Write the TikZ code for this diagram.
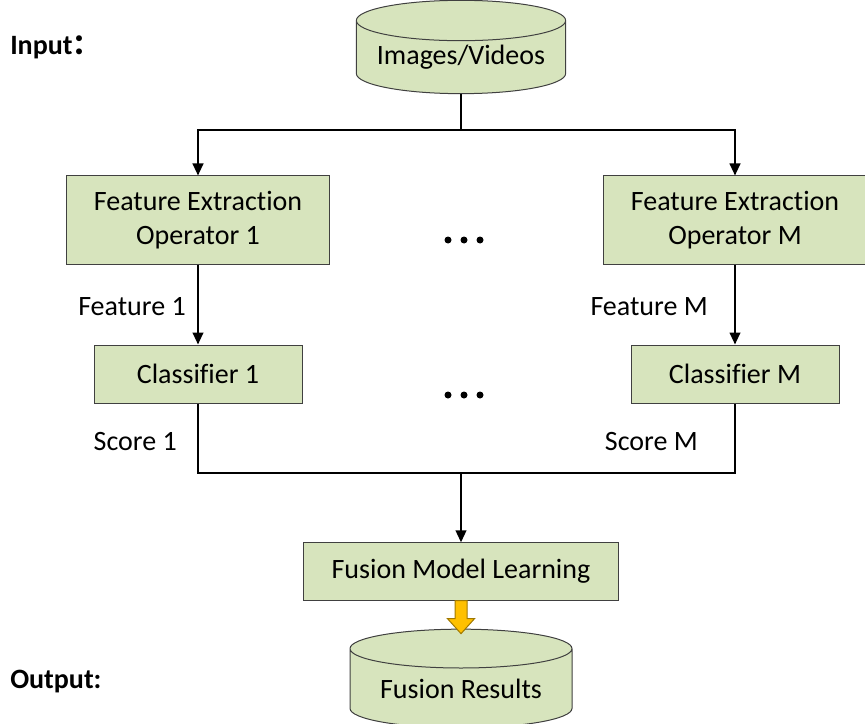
\documentclass[tikz,border=0pt]{standalone}
\usepackage{fontspec}
\setmainfont{Carlito}[Ligatures=NoCommon]
\newfontfamily\cjk{Noto Sans CJK SC}
\usetikzlibrary{positioning, arrows.meta, calc, shapes.geometric}
\definecolor{boxgreen}{HTML}{D7E4BD}
\definecolor{boxline}{HTML}{404040}
\definecolor{fuseyellow}{HTML}{FFC000}
\definecolor{fuseedge}{HTML}{A07800}
\tikzset{
  block/.style={draw=boxline, fill=boxgreen, line width=0.75pt, align=center, inner sep=0pt, font=\fontsize{21}{26}\selectfont},
  store/.style={block, shape=cylinder, shape border rotate=90, aspect=0.24, anchor=shape center},
  wire/.style={line width=1.5pt},
  flow/.style={wire, -{Triangle[length=9pt,width=8pt]}},
  tag/.style={anchor=east, inner sep=0pt, font=\fontsize{21}{26}\selectfont},
  io/.style={anchor=west, inner sep=0pt, font=\fontsize{21}{26}\selectfont\bfseries},
}

\begin{document}
\begin{tikzpicture}[x=0.75pt, y=-0.75pt]
    \useasboundingbox (0,0) rectangle (865,724);
    % inputs and outputs
    \node[io] (inlbl) at (10,47) {Input{\cjk ：}};
    \node[io] (outlbl) at (10,682) {Output:};
    \node[store, minimum width=157pt, minimum height=70pt] (img) at (461,47) {Images/Videos};
    \node[store, minimum width=166.5pt, minimum height=74pt] (res) at (461,678.5) {Fusion Results};
    % operators and classifiers
    \node[block, minimum width=197pt, minimum height=66pt] (feat1) at (198,220) {Feature Extraction\\Operator 1};
    \node[block, minimum width=197pt, minimum height=66pt] (featM) at (735,220) {Feature Extraction\\Operator M};
    \node[block, minimum width=156pt, minimum height=43.5pt] (cls1) at (198,374) {Classifier 1};
    \node[block, minimum width=156pt, minimum height=43.5pt] (clsM) at (735,374) {Classifier M};
    \node[block, minimum width=236pt, minimum height=43pt] (fusion) at (461,571.5) {Fusion Model Learning};
    \foreach \x in {448,464,480} {
        \fill (\x,240) circle (3.5);
        \fill (\x,395) circle (3.5);
    }
    \coordinate (split) at (461,130);
    \coordinate (merge) at (461,473);
    % connectors
    \draw[wire] (img) -- (split);
    \draw[flow] (split) -| (feat1);
    \draw[flow] (split) -| (featM);
    \draw[flow] (feat1) -- (cls1);
    \draw[flow] (featM) -- (clsM);
    \draw[wire] (cls1) |- (merge) -| (clsM);
    \draw[flow] (merge) -- (fusion);
    \draw[fill=fuseyellow, draw=fuseedge, line width=0.75pt] ($(fusion.south)+(-6,0)$) -- ++(0,18) -- ++(-7.5,0) -- ($(fusion.south)+(0,33)$) -- ($(fusion.south)+(13.5,18)$) -- ++(-7.5,0) -- ($(fusion.south)+(6,0)$) -- cycle;
    \node[tag] (lblfeat1) at (186,307) {Feature 1};
    \node[tag] (lblfeatM) at (708,307) {Feature M};
    \node[tag] (lblscore1) at (177,442) {Score 1};
    \node[tag] (lblscoreM) at (698,442) {Score M};
\end{tikzpicture}
\end{document}
